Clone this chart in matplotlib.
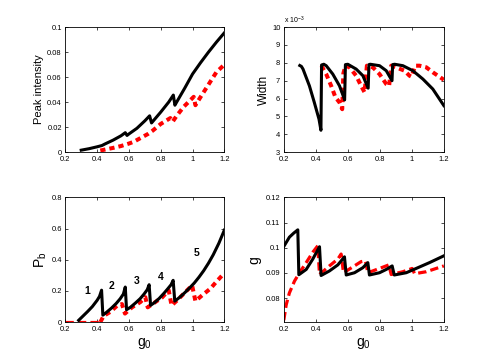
import matplotlib
matplotlib.use("Agg")
from matplotlib import pyplot as plt

plt.rcParams['font.family'] = ['Liberation Sans', 'DejaVu Sans']
plt.rcParams['mathtext.default'] = 'regular'

# Datos
# ----------------------------------------
# Peak intensity
pk_black_x = [0.30, 0.35, 0.40, 0.43, 0.45, 0.50, 0.55, 0.577, 0.588, 0.60, 0.65, 0.70, 0.73, 0.742,
              0.75, 0.80, 0.85, 0.879, 0.889, 0.90, 0.95, 1.00, 1.05, 1.10, 1.15, 1.20]
pk_black_y = [0.0015, 0.0027, 0.0042, 0.0052, 0.0065, 0.0095, 0.013, 0.0155, 0.0133, 0.0145, 0.019,
              0.025, 0.029, 0.0233, 0.0245, 0.032, 0.040, 0.0456, 0.0375, 0.040, 0.051, 0.0625,
              0.0715, 0.0800, 0.0880, 0.0955]
pk_red_x = [0.42, 0.45, 0.50, 0.55, 0.60, 0.63, 0.67, 0.72, 0.75, 0.80, 0.86, 0.875, 0.90, 0.944,
            1.007, 1.018, 1.05, 1.11, 1.15, 1.20]
pk_red_y = [0.0012, 0.002, 0.0033, 0.0048, 0.0068, 0.0082, 0.011, 0.0145, 0.0172, 0.0225, 0.0272,
            0.0243, 0.029, 0.0362, 0.0442, 0.0375, 0.0440, 0.0560, 0.0640, 0.0700]

# Width (x 1e-3)
w_black_x = [0.30, 0.31, 0.32, 0.36, 0.39, 0.42, 0.432, 0.436, 0.45, 0.465, 0.506, 0.548, 0.573,
             0.580, 0.585, 0.60, 0.652, 0.694, 0.727, 0.732, 0.74, 0.798, 0.84, 0.876, 0.880,
             0.892, 0.944, 1.006, 1.069, 1.131, 1.20]
w_black_y = [7.85, 7.80, 7.65, 6.71, 5.80, 4.84, 4.22, 7.88, 7.92, 7.84, 7.37, 6.71, 6.10, 5.92,
             7.90, 7.92, 7.65, 7.28, 6.58, 7.90, 7.92, 7.84, 7.56, 7.00, 7.90, 7.92, 7.84, 7.56,
             7.09, 6.53, 5.60]
w_red_x = [0.435, 0.465, 0.496, 0.523, 0.548, 0.565, 0.572, 0.585, 0.61, 0.652, 0.683, 0.705,
           0.719, 0.756, 0.798, 0.84, 0.858, 0.871, 0.90, 0.954, 0.985, 0.998, 1.021, 1.048,
           1.09, 1.131, 1.20]
w_red_y = [7.84, 7.37, 6.71, 6.06, 5.78, 5.40, 7.40, 7.84, 7.75, 7.28, 6.71, 6.34, 7.84, 7.75,
           7.37, 6.81, 6.70, 7.84, 7.75, 7.56, 7.28, 7.22, 7.84, 7.84, 7.75, 7.47, 7.05]

# P_b
pb_black_x = [0.284, 0.31, 0.34, 0.37, 0.40, 0.415, 0.428, 0.436,
              0.46, 0.49, 0.52, 0.545, 0.565, 0.577, 0.585,
              0.61, 0.64, 0.67, 0.695, 0.715, 0.727, 0.736,
              0.76, 0.79, 0.82, 0.845, 0.865, 0.878, 0.888,
              0.92, 0.95, 0.98, 1.01, 1.04, 1.07, 1.10, 1.13, 1.165, 1.20]
pb_black_y = [0.012, 0.038, 0.068, 0.100, 0.140, 0.165, 0.205, 0.045,
              0.064, 0.090, 0.120, 0.150, 0.180, 0.225, 0.080,
              0.096, 0.122, 0.150, 0.180, 0.208, 0.240, 0.108,
              0.125, 0.152, 0.185, 0.215, 0.240, 0.268, 0.135,
              0.160, 0.188, 0.218, 0.250, 0.288, 0.330, 0.378, 0.432, 0.505, 0.590]
pb_red_x = [0.20, 0.42, 0.441, 0.483, 0.525, 0.556, 0.575, 0.619, 0.672, 0.703, 0.718, 0.766,
            0.808, 0.85, 0.868, 0.902, 0.955, 0.997, 1.018, 1.06, 1.112, 1.154, 1.20]
pb_red_y = [0.0, 0.0, 0.040, 0.066, 0.105, 0.116, 0.055, 0.095, 0.129, 0.160, 0.095, 0.129,
            0.158, 0.204, 0.107, 0.139, 0.193, 0.236, 0.135, 0.172, 0.215, 0.264, 0.315]

# g
g_black_x = [0.20, 0.235, 0.262, 0.2875, 0.294, 0.34, 0.381, 0.423, 0.433, 0.485, 0.5375, 0.579,
             0.59, 0.642, 0.694, 0.725, 0.735, 0.798, 0.84, 0.877, 0.890, 0.965, 1.027, 1.11, 1.20]
g_black_y = [0.1005, 0.1042, 0.1058, 0.1071, 0.0893, 0.0914, 0.0955, 0.1004, 0.0890, 0.0908,
             0.0932, 0.0964, 0.0892, 0.0901, 0.0921, 0.0941, 0.0892, 0.0901, 0.0914, 0.0928,
             0.0892, 0.0901, 0.0918, 0.0941, 0.0968]
g_red_x = [0.20, 0.215, 0.235, 0.267, 0.298, 0.34, 0.381, 0.4125, 0.423, 0.485, 0.5375, 0.558,
           0.573, 0.631, 0.683, 0.71, 0.725, 0.798, 0.856, 0.871, 0.944, 1.002, 1.017, 1.09, 1.20]
g_red_y = [0.0713, 0.0774, 0.0821, 0.0868, 0.0901, 0.0941, 0.0982, 0.1008, 0.0894, 0.0928,
           0.0955, 0.0975, 0.0901, 0.0924, 0.0945, 0.0948, 0.0901, 0.0918, 0.0932, 0.0894,
           0.0905, 0.0918, 0.0897, 0.0905, 0.0928]

x_ticks = [0.2, 0.4, 0.6, 0.8, 1.0, 1.2]
x_labels = ["0.2", "0.4", "0.6", "0.8", "1", "1.2"]

# Estilos
black_kw = dict(color="black", lw=2.2, solid_joinstyle="round")
dot_kw = dict(color="red", lw=2.9, linestyle=(0, (1.3, 1.0)))
dash_kw = dict(color="red", lw=2.3, linestyle=(0, (2.6, 1.3)))

fig = plt.figure(figsize=(4.91, 3.62), dpi=100)
ax1 = fig.add_axes([0.133, 0.580, 0.324, 0.345])
ax2 = fig.add_axes([0.578, 0.580, 0.326, 0.345])
ax3 = fig.add_axes([0.133, 0.110, 0.324, 0.345])
ax4 = fig.add_axes([0.578, 0.110, 0.326, 0.345])


def style(ax):
    ax.set_xlim(0.2, 1.2)
    ax.set_xticks(x_ticks)
    ax.set_xticklabels(x_labels)
    ax.tick_params(direction="in", length=2.5, width=0.5, labelsize=5.4,
                   top=True, right=True)
    ax.tick_params(axis="x", pad=3)
    ax.tick_params(axis="y", pad=2.5)
    for s in ax.spines.values():
        s.set_linewidth(0.6)


# Peak intensity
ax1.plot(pk_red_x, pk_red_y, **dot_kw)
ax1.plot(pk_black_x, pk_black_y, **black_kw)
style(ax1)
ax1.set_ylim(0, 0.1)
ax1.set_yticks([0, 0.02, 0.04, 0.06, 0.08, 0.1])
ax1.set_yticklabels(["0", "0.02", "0.04", "0.06", "0.08", "0.1"])
ax1.set_ylabel("Peak intensity", fontsize=8, labelpad=2)

# Width
ax2.plot(w_red_x, w_red_y, **dot_kw)
ax2.plot(w_black_x, w_black_y, **black_kw)
style(ax2)
ax2.set_ylim(3, 10)
ax2.set_yticks(range(3, 11))
ax2.set_ylabel("Width", fontsize=8.5, labelpad=1.5)
ax2.text(0.0, 1.01, r"x 10$^{-3}$", transform=ax2.transAxes, fontsize=5,
         ha="left", va="bottom")

# P_b
ax3.plot(pb_red_x[:2], pb_red_y[:2], **dash_kw)
ax3.plot(pb_red_x[1:], pb_red_y[1:], **dot_kw)
ax3.plot(pb_black_x, pb_black_y, **black_kw)
style(ax3)
ax3.set_ylim(0, 0.8)
ax3.set_yticks([0, 0.2, 0.4, 0.6, 0.8])
ax3.set_yticklabels(["0", "0.2", "0.4", "0.6", "0.8"])
ax3.set_ylabel(r"P$_{b}$", fontsize=10, labelpad=2)
ax3.set_xlabel(r"g$_{0}$", fontsize=10, labelpad=2)
for lab, lx, ly in zip(["1", "2", "3", "4", "5"],
                       [0.336, 0.489, 0.65, 0.797, 1.028],
                       [0.197, 0.230, 0.262, 0.290, 0.444]):
    ax3.text(lx, ly, lab, fontsize=7.5, fontweight="bold", ha="center", va="center")

# g
ax4.plot(g_red_x, g_red_y, **dash_kw)
ax4.plot(g_black_x, g_black_y, **black_kw)
style(ax4)
ax4.set_ylim(0.0705, 0.12)
ax4.set_yticks([0.08, 0.09, 0.1, 0.11, 0.12])
ax4.set_yticklabels(["0.08", "0.09", "0.1", "0.11", "0.12"])
ax4.set_ylabel("g", fontsize=10, labelpad=3)
ax4.set_xlabel(r"g$_{0}$", fontsize=10, labelpad=2)

fig.savefig("out.png", dpi=100)
